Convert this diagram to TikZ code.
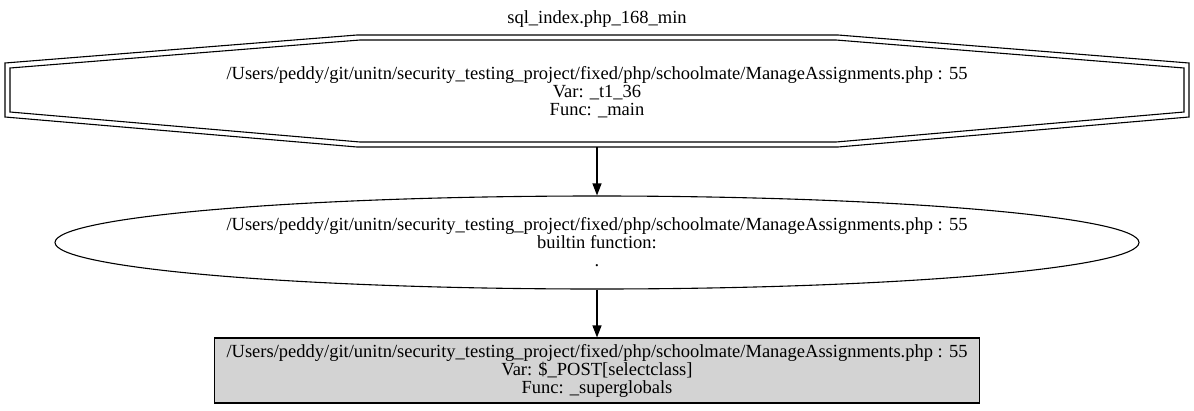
\documentclass[tikz,border=0pt]{standalone}
\usepackage{fontspec}
\setmainfont{Liberation Serif}
\usetikzlibrary{shapes.geometric,arrows.meta}
\begin{document}
\begin{tikzpicture}[x=1pt,y=-1pt,
  lbl/.style={align=center,font=\fontsize{18.5}{18}\selectfont,inner sep=0pt},
  edge/.style={draw,line width=1.1pt,-{Triangle[length=12pt,width=9pt]}},
  shp/.style={draw,line width=1.1pt}]
\useasboundingbox (0,0) rectangle (1194,410);
\node[lbl] (title) at (597,19) {sql\_index.php\_168\_min};
% octagon (double)
\draw[shp] (357,35) -- (838,35) -- (1189,63) -- (1189,117) -- (838,147) -- (357,147) -- (5,117) -- (5,63) -- cycle;
\draw[shp] (360,40) -- (836,40) -- (1184,68) -- (1184,112) -- (836,142) -- (360,142) -- (10,112) -- (10,68) -- cycle;
\node[lbl] (oct) at (597,92) {/Users/peddy/git/unitn/security\_testing\_project/fixed/php/schoolmate/ManageAssignments.php : 55\\Var: \_t1\_36\\Func: \_main};
\coordinate (octb) at (597,147);
\node[lbl,shp,ellipse,minimum width=1084pt,minimum height=93pt] (ell) at (597,242.5) {/Users/peddy/git/unitn/security\_testing\_project/fixed/php/schoolmate/ManageAssignments.php : 55\\builtin function:\\.};
\node[lbl,shp,rectangle,fill={rgb,255:red,211;green,211;blue,211},minimum width=765pt,minimum height=65pt] (box) at (597,370.5) {/Users/peddy/git/unitn/security\_testing\_project/fixed/php/schoolmate/ManageAssignments.php : 55\\Var: \$\_POST[selectclass]\\Func: \_superglobals};
\draw[edge] (octb) -- (ell.north);
\draw[edge] (ell.south) -- (box.north);
\end{tikzpicture}
\end{document}
